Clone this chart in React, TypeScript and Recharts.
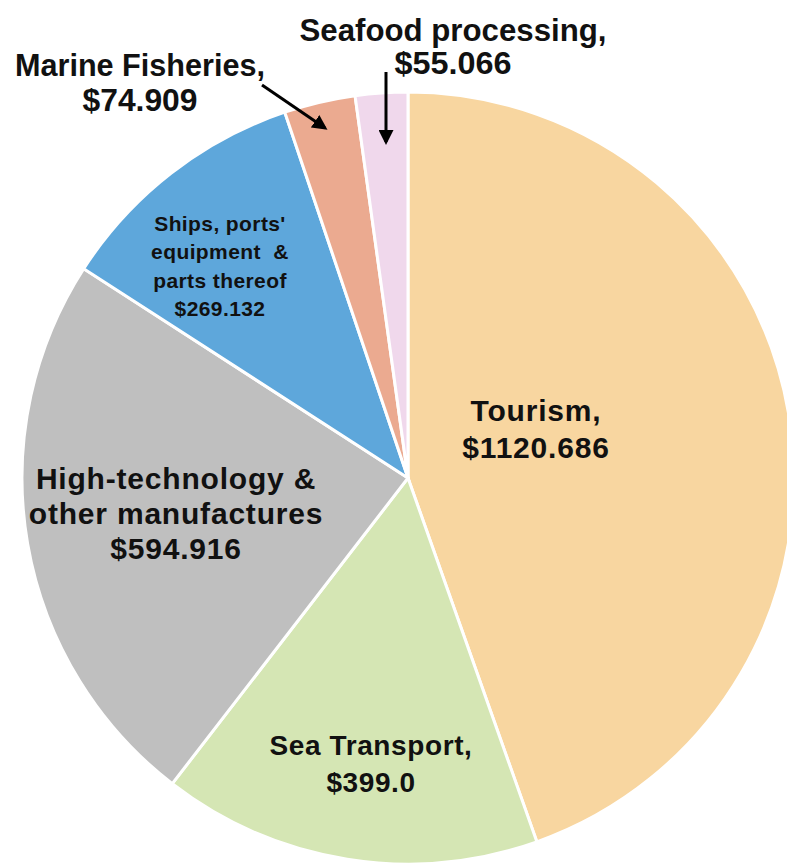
import { PieChart, Pie, Cell } from 'recharts'

const names = ['Tourism', 'Sea Transport', 'High-technology & other manufactures', "Ships, ports' equipment & parts thereof", 'Marine Fisheries', 'Seafood processing']
const values = [1120.686, 399.0, 594.916, 269.132, 74.909, 55.066]
const labelLines = [
  ['Tourism,', '$1120.686'],
  ['Sea Transport,', '$399.0'],
  ['High-technology &', 'other manufactures', '$594.916'],
  ["Ships, ports'", 'equipment  &', 'parts thereof', '$269.132'],
  ['Marine Fisheries,', '$74.909'],
  ['Seafood processing,', '$55.066'],
]
const colors = ['#F8D6A0', '#D5E6B4', '#BFBFBF', '#5EA7DB', '#EBAA90', '#F0D8EC']

// label placement relative to pie centre
const layout = [
  { dx: 128, dy: -68, size: 30, gap: 37, ls: 0.8 },
  { dx: -37, dy: 267, size: 28, gap: 37, ls: 0.6 },
  { dx: -232, dy: 0, size: 30, gap: 35, ls: 0.8 },
  { dx: -188, dy: -255, size: 21, gap: 28.5, ls: 0.4 },
  { dx: -268, dy: -413, size: 31, gap: 35, ls: 0, narrow: [250, 115], arrow: [-146, -393, -83, -350] },
  { dx: 45, dy: -448, size: 31, gap: 33, ls: 0, narrow: [307, 117], arrow: [-22, -406, -22, -336] },
]

const data = names.map((name, i) => ({ name, value: values[i] }))

function renderLabel(props: any) {
  const { cx, cy, index } = props
  const l = layout[index]
  const lines = labelLines[index]
  const x = cx + l.dx
  return (
    <g key={`lbl-${index}`}>
      {lines.map((t, j) => (
        <text
          key={j}
          x={x}
          y={cy + l.dy + j * l.gap}
          textAnchor="middle"
          dominantBaseline="central"
          fontFamily={l.narrow ? '"Liberation Sans Narrow", "Liberation Sans", Arial, sans-serif' : '"Liberation Sans", Arial, sans-serif'}
          fontWeight="bold"
          fontSize={l.size}
          letterSpacing={l.ls}
          fill="#111"
          textLength={l.narrow ? l.narrow[j] : undefined}
          lengthAdjust={l.narrow ? 'spacingAndGlyphs' : undefined}
          style={{ whiteSpace: 'pre' }}
        >
          {t}
        </text>
      ))}
      {l.arrow && (
        <line
          x1={cx + l.arrow[0]}
          y1={cy + l.arrow[1]}
          x2={cx + l.arrow[2]}
          y2={cy + l.arrow[3]}
          stroke="#000"
          strokeWidth={3}
          markerEnd="url(#arrowHead)"
        />
      )}
    </g>
  )
}

export default function App() {
  return (
    <div style={{ position: 'absolute', left: 0, top: 0, background: '#fff' }}>
      <PieChart width={787} height={864} margin={{ top: 0, right: 0, bottom: 0, left: 0 }}>
        <defs>
          <marker id="arrowHead" viewBox="0 0 10 10" refX="8" refY="5" markerWidth="5" markerHeight="5" orient="auto">
            <path d="M0,0 L10,5 L0,10 z" fill="#000" />
          </marker>
        </defs>
        <Pie
          data={data}
          dataKey="value"
          nameKey="name"
          cx={408}
          cy={478}
          outerRadius={386}
          startAngle={90}
          endAngle={-270}
          stroke="#fff"
          strokeWidth={3}
          label={renderLabel}
          labelLine={false}
          isAnimationActive={false}
        >
          {data.map((d, i) => (
            <Cell key={d.name} fill={colors[i]} />
          ))}
        </Pie>
      </PieChart>
    </div>
  )
}
